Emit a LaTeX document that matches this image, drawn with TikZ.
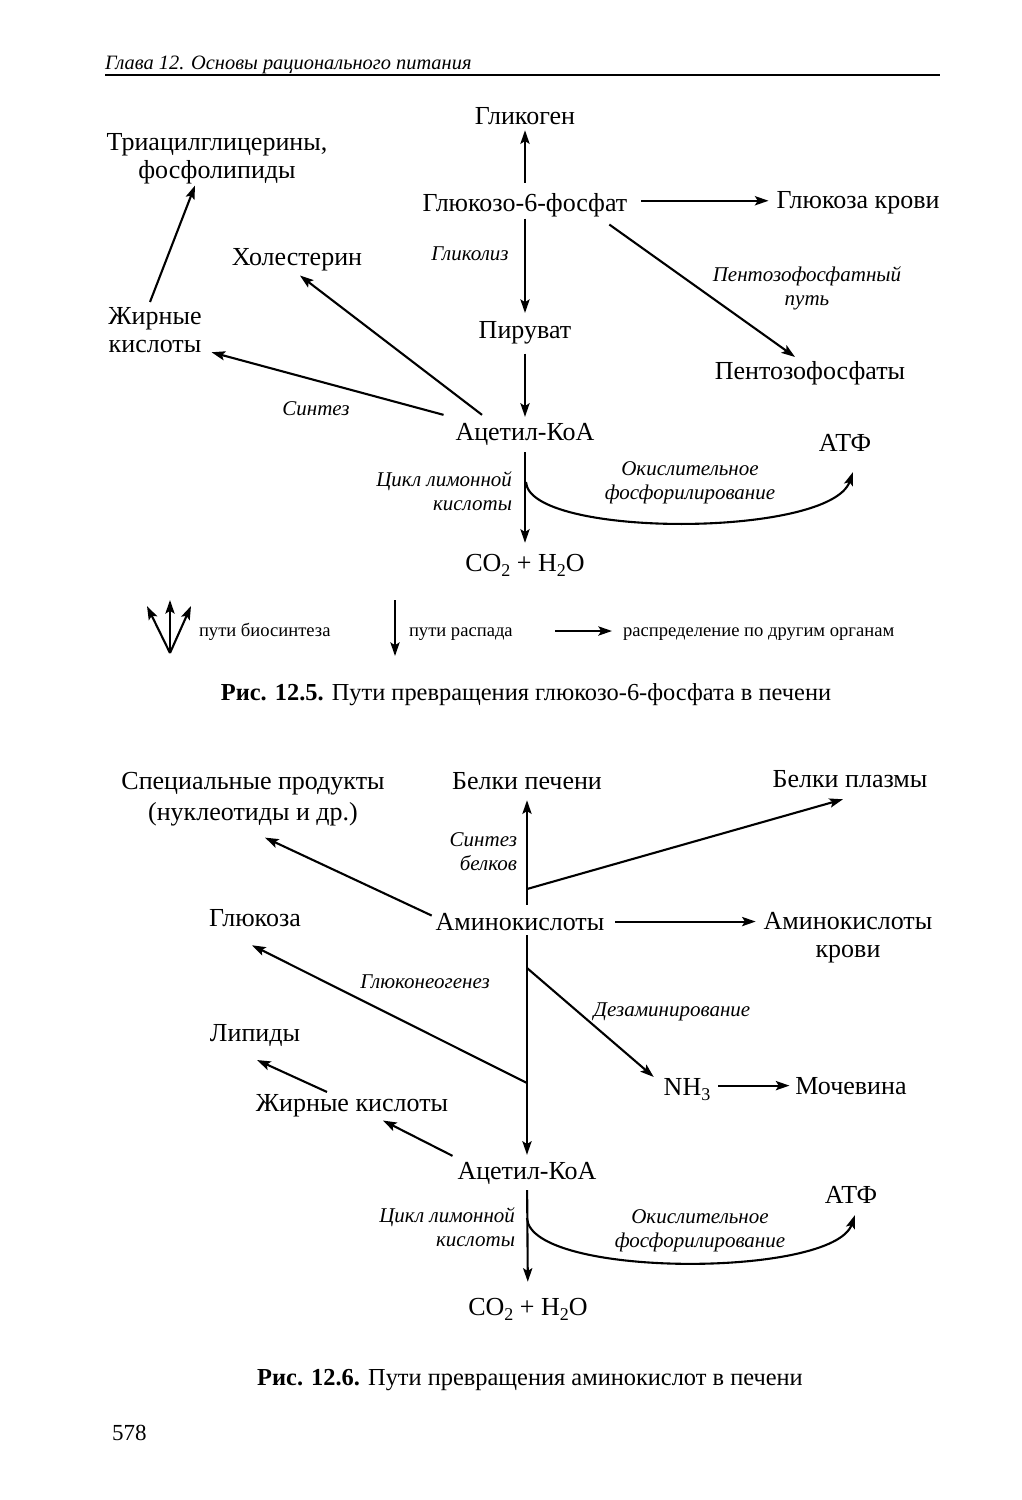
\documentclass[tikz,border=0pt]{standalone}
\usepackage{fontspec}
\setmainfont{Liberation Serif}
\usetikzlibrary{arrows.meta}
\newcommand\lowidx[1]{\raisebox{-0.45ex}{\fontsize{9}{9}\selectfont #1}}
\begin{document}
\begin{tikzpicture}[x=0.5pt,y=-0.5pt,
    every node/.style={inner sep=0pt,outer sep=0pt},
    chem/.style={font=\fontsize{13}{14}\selectfont,align=center,anchor=base},
    remark/.style={font=\itshape\fontsize{10.5}{12}\selectfont,align=center,anchor=base},
    legtext/.style={font=\fontsize{9.3}{11}\selectfont,anchor=base west},
    capt/.style={font=\fontsize{12.2}{14}\selectfont,anchor=base},
    link/.style={line width=1.05pt,-{Stealth[length=6.8pt,width=4.6pt,inset=1.4pt]}}]
  \fill[white] (0,0) rectangle (1022,1500);
  \useasboundingbox (0,0) rectangle (1022,1500);
  % running head
  \node[font=\itshape\fontsize{10.2}{12}\selectfont,anchor=base west] (h0) at (105,69)
    {Глава 12. Основы рационального питания};
  \draw[line width=0.6pt] (105,75) -- (940,75);
  % Fig. 12.5
  \draw
    (525,124) node[chem] (a0) {Гликоген}
    (525,211) node[chem] (a1) {Глюкозо-6-фосфат}
    (858,208) node[chem] (a2) {Глюкоза крови}
    (810,379) node[chem] (a3) {Пентозофосфаты}
    (525,338) node[chem] (a4) {Пируват}
    (525,440) node[chem] (a5) {Ацетил-КоА}
    (297,265) node[chem] (a6) {Холестерин}
    (155,352) node[chem] (a7) {Жирные\\кислоты}
    (217,178) node[chem] (a8) {Триацилглицерины,\\фосфолипиды}
    (845,451) node[chem] (a9) {АТФ}
    (525,571) node[chem] (a10) {CO\lowidx{2} + H\lowidx{2}O};
  \draw
    (470,260) node[remark] (n0) {Гликолиз}
    (807,305) node[remark] (n1) {Пентозофосфатный\\путь}
    (316,415) node[remark] (n2) {Синтез}
    (512,510) node[remark,align=right,anchor=base east] (n3) {Цикл лимонной\\кислоты}
    (690,499) node[remark] (n4) {Окислительное\\фосфорилирование};
  \coordinate (c1) at (526,482);
  \begin{scope}[link]
    \draw[shorten <=5pt,shorten >=3pt] (a1) to (a0);
    \draw[shorten <=1pt,shorten >=4pt] (a1) to (a4);
    \draw[shorten <=5pt,shorten >=3pt] (a4) to (a5);
    \draw[shorten <=7pt,shorten >=4pt] ([yshift=2pt]a1.east) to ([yshift=2pt]a1.east -| a2.west);
    \draw ([shift={(-18,8)}]a1.south east) to ([shift={(-15,-4)}]a3.north);
    \draw ([shift={(-43,-8)}]a5.north) to ([shift={(3,5)}]a6.south);
    \draw ([shift={(-12,-8)}]a5.north west) to ([shift={(10,0)}]a7.south east);
    \draw ([shift={(-5,-5)}]a7.north) to ([shift={(-22,2)}]a8.south);
    \draw[shorten <=3.5pt,shorten >=5.5pt] (a5) to (a10);
    \draw (c1) .. controls (529,538) and (830,538) .. ([shift={(8,21)}]a9.south);
  \end{scope}
  % legend
  \coordinate (l0) at (170,653);
  \coordinate (l1) at (147,606);
  \coordinate (l2) at (170,600);
  \coordinate (l3) at (191,606);
  \coordinate (l4) at (395,600);
  \coordinate (l5) at (395,656);
  \coordinate (l6) at (555,631);
  \coordinate (l7) at (612,631);
  \draw
    (199,636) node[legtext] (g0) {пути биосинтеза}
    (409,636) node[legtext] (g1) {пути распада}
    (623,636) node[legtext] (g2) {распределение по другим органам};
  \begin{scope}[link]
    \draw (l0) to (l1);
    \draw (l0) to (l2);
    \draw (l0) to (l3);
    \draw (l4) to (l5);
    \draw (l6) to (l7);
  \end{scope}
  \node[capt] (t0) at (526,700) {\textbf{Рис. 12.5.} Пути превращения глюкозо-6-фосфата в печени};
  % Fig. 12.6
  \draw
    (253,820) node[chem,font=\fontsize{13}{15.5}\selectfont] (b0) {Специальные продукты\\(нуклеотиды и др.)}
    (527,789) node[chem] (b1) {Белки печени}
    (850,787) node[chem] (b2) {Белки плазмы}
    (520,930) node[chem] (b3) {Аминокислоты}
    (848,957) node[chem] (b4) {Аминокислоты\\крови}
    (255,926) node[chem] (b5) {Глюкоза}
    (687,1095) node[chem] (b6) {NH\lowidx{3}}
    (851,1094) node[chem] (b7) {Мочевина}
    (255,1041) node[chem] (b8) {Липиды}
    (352,1111) node[chem] (b9) {Жирные кислоты}
    (527,1179) node[chem] (b10) {Ацетил-КоА}
    (851,1203) node[chem] (b11) {АТФ}
    (528,1315) node[chem] (b12) {CO\lowidx{2} + H\lowidx{2}O};
  \draw
    (517,870) node[remark,align=right,anchor=base east] (m0) {Синтез\\белков}
    (425,988) node[remark] (m1) {Глюконеогенез}
    (672,1016) node[remark] (m2) {Дезаминирование}
    (515,1246) node[remark,align=right,anchor=base east] (m3) {Цикл лимонной\\кислоты}
    (700,1247) node[remark] (m4) {Окислительное\\фосфорилирование};
  \coordinate (p1) at (527,889);
  \coordinate (p2) at (527,968);
  \coordinate (p3) at (527,1083);
  \coordinate (p4) at (527,1218);
  \begin{scope}[link]
    \draw[shorten <=4pt,shorten >=5.5pt] (b1.south |- b3.north) to (b1.south);
    \draw (p1) to ([shift={(-7,12)}]b2.south);
    \draw ([shift={(-4,-6)}]b3.west) to ([shift={(12,12)}]b0.south);
    \draw[shorten <=5.5pt,shorten >=4pt] (b3.east) to (b3.east -| b4.west);
    \draw[shorten <=2.5pt,shorten >=3.5pt] (b10.north |- b3.south) to (b10.north);
    \draw (p2) to ([shift={(-10,-1)}]b6.north west);
    \draw (p3) to ([shift={(-3,19)}]b5.south);
    \draw[shorten <=4pt,shorten >=3pt] (b7.west -| b6.east) to (b7.west);
    \draw ([shift={(-25,-2)}]b9.north) to ([shift={(2,14)}]b8.south);
    \draw ([shift={(-5,-6)}]b10.north west) to ([shift={(31,4)}]b9.south);
    \draw[shorten <=3pt,shorten >=8pt] (b10) to (b12);
    \draw (p4) .. controls (530,1278) and (833,1278) .. ([shift={(4,12)}]b11.south);
  \end{scope}
  \node[capt] (t1) at (530,1385) {\textbf{Рис. 12.6.} Пути превращения аминокислот в печени};
  \node[font=\fontsize{11.5}{13}\selectfont,anchor=base west] (pg) at (112,1440) {578};
\end{tikzpicture}
\end{document}
